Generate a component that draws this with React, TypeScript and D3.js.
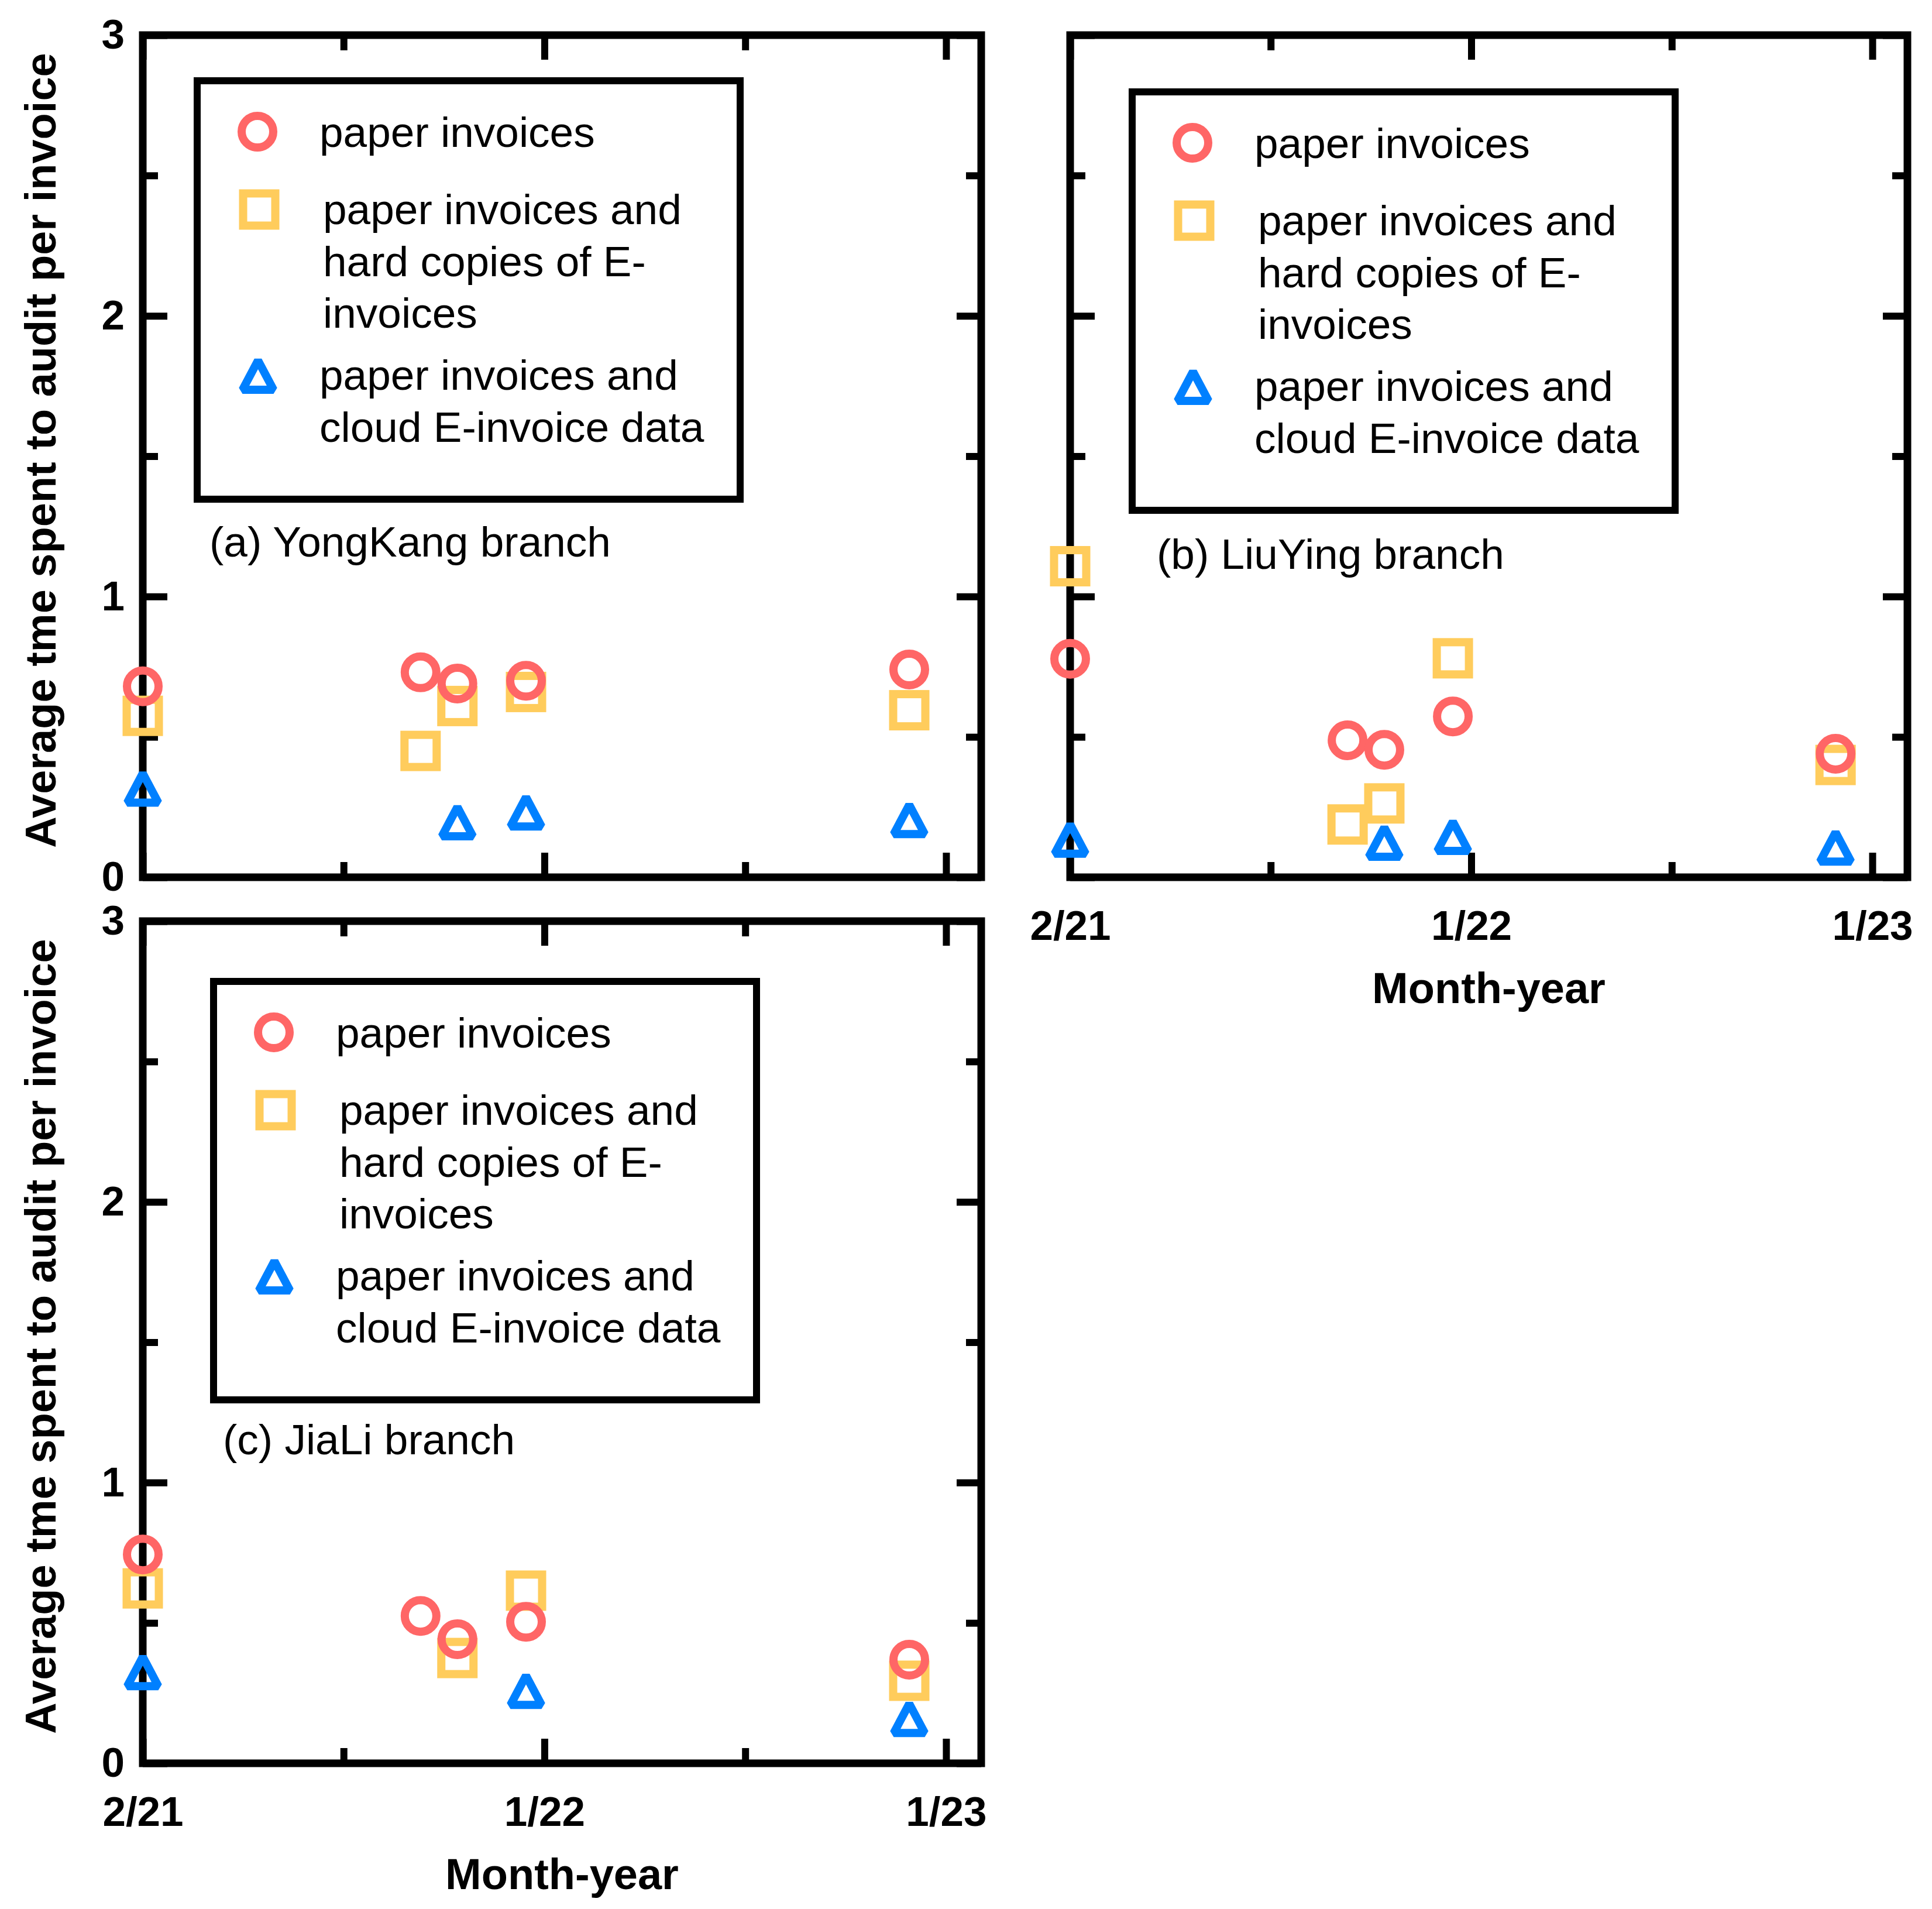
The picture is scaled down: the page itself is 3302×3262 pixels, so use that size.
import { useEffect, useRef } from "react";
import * as d3 from "d3";

// months after 2/21 (the axis puts 12 units between labelled ticks)
const monthsAll = [0, 8.3, 9.4, 11.45, 22.9];
const monthsCloud = [0, 9.4, 11.45, 22.9];
const monthsHardJiaLi = [0, 9.4, 11.45, 22.9];
const monthsCloudJiaLi = [0, 11.45, 22.9];

const yongKangPaper = [0.68, 0.73, 0.69, 0.7, 0.74];
const yongKangHard = [0.575, 0.45, 0.61, 0.66, 0.595];
const yongKangCloud = [0.32, 0.2, 0.235, 0.208];

const liuYingPaper = [0.778, 0.488, 0.454, 0.573, 0.44];
const liuYingHard = [1.108, 0.188, 0.263, 0.78, 0.4];
const liuYingCloud = [0.138, 0.127, 0.148, 0.11];

const jiaLiPaper = [0.744, 0.525, 0.442, 0.504, 0.369];
const jiaLiHard = [0.623, 0.375, 0.615, 0.294];
const jiaLiCloud = [0.329, 0.262, 0.162];

const xTickValues = [0, 12, 24];
const xTickLabels = ["2/21", "1/22", "1/23"];
const xMinorValues = [6, 18];
const yTickValues = [0, 1, 2, 3];
const yMinorValues = [0.5, 1.5, 2.5];

const legendPaper = ["paper invoices"];
const legendHard = ["paper invoices and", "hard copies of E-", "invoices"];
const legendCloud = ["paper invoices and", "cloud E-invoice data"];

const yTitle = "Average tme spent to audit per invoice";
const xTitle = "Month-year";

const RED = "#ff6666";
const YELLOW = "#ffcc5c";
const BLUE = "#0080ff";
const FONT = "'Liberation Sans', Arial, Helvetica, sans-serif";

type Panel = {
  title: string;
  paper: number[];
  hard: number[];
  hardMonths: number[];
  cloud: number[];
  cloudMonths: number[];
  left: number;
  right: number;
  top: number;
  bottom: number;
  showY: boolean;
  showX: boolean;
  legendX: number;
  legendY: number;
  titleX: number;
  titleY: number;
};

const panels: Panel[] = [
  {
    title: "(a) YongKang branch",
    paper: yongKangPaper,
    hard: yongKangHard,
    hardMonths: monthsAll,
    cloud: yongKangCloud,
    cloudMonths: monthsCloud,
    left: 244, right: 1677, top: 60, bottom: 1499,
    showY: true, showX: false,
    legendX: 337, legendY: 138,
    titleX: 358, titleY: 951,
  },
  {
    title: "(b) LiuYing branch",
    paper: liuYingPaper,
    hard: liuYingHard,
    hardMonths: monthsAll,
    cloud: liuYingCloud,
    cloudMonths: monthsCloud,
    left: 1829, right: 3260, top: 60, bottom: 1499,
    showY: false, showX: true,
    legendX: 1935, legendY: 157,
    titleX: 1977, titleY: 972,
  },
  {
    title: "(c) JiaLi branch",
    paper: jiaLiPaper,
    hard: jiaLiHard,
    hardMonths: monthsHardJiaLi,
    cloud: jiaLiCloud,
    cloudMonths: monthsCloudJiaLi,
    left: 244, right: 1677, top: 1574, bottom: 3013,
    showY: true, showX: true,
    legendX: 365, legendY: 1677,
    titleX: 381, titleY: 2485,
  },
];

const triPath = (w: number, h: number) =>
  `M0,${-h / 2}L${w / 2},${h / 2}L${-w / 2},${h / 2}Z`;

type G = d3.Selection<SVGGElement, unknown, null, undefined>;

const drawCircle = (g: G, x: number, y: number) =>
  g.append("circle").attr("cx", x).attr("cy", y).attr("r", 27)
    .attr("fill", "none").attr("stroke", RED).attr("stroke-width", 14);

const drawSquare = (g: G, x: number, y: number) =>
  g.append("rect").attr("x", x - 27.5).attr("y", y - 27.5)
    .attr("width", 55).attr("height", 55)
    .attr("fill", "none").attr("stroke", YELLOW).attr("stroke-width", 14);

const drawTriangle = (g: G, x: number, y: number) =>
  g.append("path").attr("d", triPath(53, 50))
    .attr("transform", `translate(${x},${y + 1})`)
    .attr("fill", "none").attr("stroke", BLUE).attr("stroke-width", 14)
    .attr("stroke-linejoin", "bevel");

const drawPanel = (svg: d3.Selection<SVGSVGElement, unknown, null, undefined>, p: Panel) => {
  const g = svg.append("g");
  const x = d3.scaleLinear().domain([0, 25.05]).range([p.left, p.right]);
  const y = d3.scaleLinear().domain([0, 3]).range([p.bottom, p.top]);

  const styleAxis = (a: G) => {
    a.select(".domain").remove();
    a.selectAll("line").attr("stroke", "#000").attr("stroke-width", 12);
    a.attr("font-family", FONT).attr("font-size", 71).attr("font-weight", "bold");
    a.selectAll("text").attr("fill", "#000");
  };

  // major ticks, all four sides, pointing inward
  const bottomAxis = g.append("g").attr("transform", `translate(0,${p.bottom})`)
    .call(d3.axisBottom(x).tickValues(xTickValues).tickSizeInner(-42).tickSizeOuter(0)
      .tickPadding(57)
      .tickFormat((_, i) => (p.showX ? xTickLabels[i] : "")));
  styleAxis(bottomAxis);
  styleAxis(g.append("g").attr("transform", `translate(0,${p.top})`)
    .call(d3.axisTop(x).tickValues(xTickValues).tickSizeInner(-42).tickSizeOuter(0).tickFormat(() => "")));
  const leftAxis = g.append("g").attr("transform", `translate(${p.left},0)`)
    .call(d3.axisLeft(y).tickValues(yTickValues).tickSizeInner(-42).tickSizeOuter(0)
      .tickPadding(31)
      .tickFormat((d) => (p.showY ? String(d) : "")));
  styleAxis(leftAxis);
  styleAxis(g.append("g").attr("transform", `translate(${p.right},0)`)
    .call(d3.axisRight(y).tickValues(yTickValues).tickSizeInner(-42).tickSizeOuter(0).tickFormat(() => "")));

  // minor ticks
  styleAxis(g.append("g").attr("transform", `translate(0,${p.bottom})`)
    .call(d3.axisBottom(x).tickValues(xMinorValues).tickSizeInner(-26).tickSizeOuter(0).tickFormat(() => "")));
  styleAxis(g.append("g").attr("transform", `translate(0,${p.top})`)
    .call(d3.axisTop(x).tickValues(xMinorValues).tickSizeInner(-26).tickSizeOuter(0).tickFormat(() => "")));
  styleAxis(g.append("g").attr("transform", `translate(${p.left},0)`)
    .call(d3.axisLeft(y).tickValues(yMinorValues).tickSizeInner(-26).tickSizeOuter(0).tickFormat(() => "")));
  styleAxis(g.append("g").attr("transform", `translate(${p.right},0)`)
    .call(d3.axisRight(y).tickValues(yMinorValues).tickSizeInner(-26).tickSizeOuter(0).tickFormat(() => "")));

  // frame
  g.append("rect")
    .attr("x", p.left).attr("y", p.top)
    .attr("width", p.right - p.left).attr("height", p.bottom - p.top)
    .attr("fill", "none").attr("stroke", "#000").attr("stroke-width", 13);

  if (p.showY) {
    g.append("text")
      .attr("transform", `translate(95,${(p.top + p.bottom) / 2 - 10}) rotate(-90)`)
      .attr("text-anchor", "middle")
      .attr("font-family", FONT).attr("font-size", 74).attr("font-weight", "bold")
      .text(yTitle);
  }
  if (p.showX) {
    g.append("text")
      .attr("x", (p.left + p.right) / 2).attr("y", p.bottom + 215)
      .attr("text-anchor", "middle")
      .attr("font-family", FONT).attr("font-size", 74).attr("font-weight", "bold")
      .text(xTitle);
  }

  // legend
  const lg = g.append("g");
  lg.append("rect")
    .attr("x", p.legendX).attr("y", p.legendY).attr("width", 928).attr("height", 715)
    .attr("fill", "none").attr("stroke", "#000").attr("stroke-width", 12);
  const entry = (lines: string[], tx: number, firstBase: number) =>
    lines.forEach((t, i) =>
      lg.append("text")
        .attr("x", p.legendX + tx).attr("y", p.legendY + firstBase + i * 88.5)
        .attr("font-family", FONT).attr("font-size", 73).attr("fill", "#000")
        .text(t));
  drawCircle(lg as G, p.legendX + 103, p.legendY + 87);
  entry(legendPaper, 209, 113);
  drawSquare(lg as G, p.legendX + 106, p.legendY + 220);
  entry(legendHard, 215, 245);
  drawTriangle(lg as G, p.legendX + 104, p.legendY + 502);
  entry(legendCloud, 209, 528);

  g.append("text")
    .attr("x", p.titleX).attr("y", p.titleY)
    .attr("font-family", FONT).attr("font-size", 73).attr("fill", "#000")
    .text(p.title);

  // data: squares under circles, triangles last
  const marks = g.append("g") as G;
  p.hard.forEach((v, i) => drawSquare(marks, x(p.hardMonths[i]), y(v)));
  p.paper.forEach((v, i) => drawCircle(marks, x(monthsAll[i]), y(v)));
  p.cloud.forEach((v, i) => drawTriangle(marks, x(p.cloudMonths[i]), y(v)));
};

const App = () => {
  const svgRef = useRef<SVGSVGElement>(null);

  useEffect(() => {
    document.body.style.margin = "0";
    if (!svgRef.current) return;
    const svg = d3.select(svgRef.current);
    svg.selectAll("*").remove();
    panels.forEach((p) => drawPanel(svg, p));
  }, []);

  return (
    <svg
      ref={svgRef}
      width={3302}
      height={3262}
      style={{ display: "block", background: "#fff" }}
    ></svg>
  );
};

export default App;
